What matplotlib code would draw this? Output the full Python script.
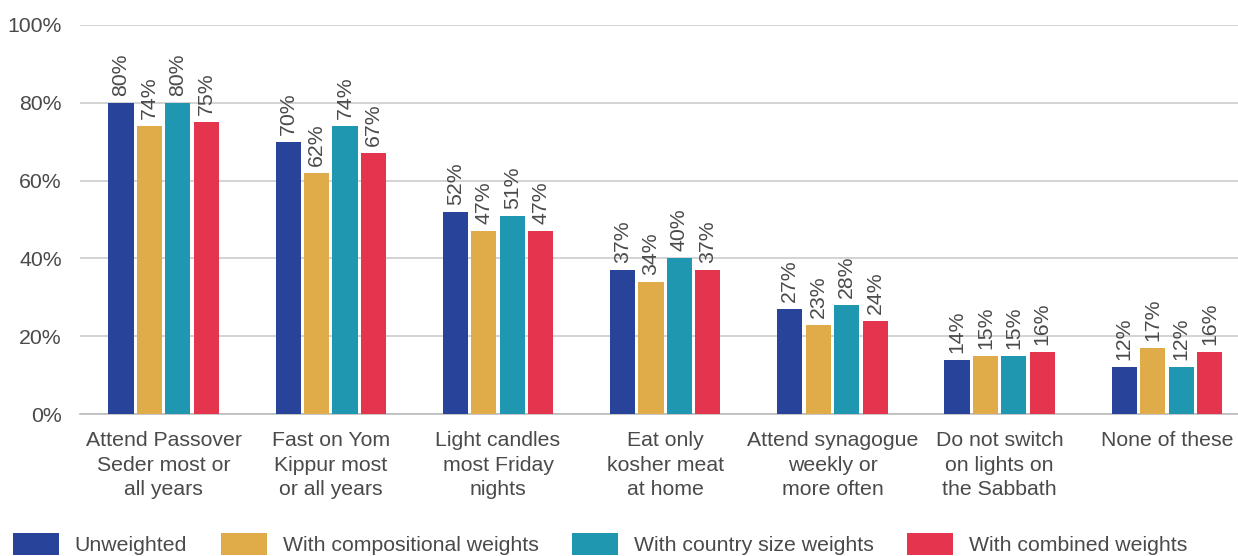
import matplotlib
matplotlib.use("Agg")
import matplotlib.pyplot as plt
import numpy as np

categories = ["Attend Passover\nSeder most or\nall years",
              "Fast on Yom\nKippur most\nor all years",
              "Light candles\nmost Friday\nnights",
              "Eat only\nkosher meat\nat home",
              "Attend synagogue\nweekly or\nmore often",
              "Do not switch\non lights on\nthe Sabbath",
              "None of these"]
series_names = ["Unweighted", "With compositional weights",
                "With country size weights", "With combined weights"]
unweighted = [80, 70, 52, 37, 27, 14, 12]
compositional = [74, 62, 47, 34, 23, 15, 17]
country_size = [80, 74, 51, 40, 28, 15, 12]
combined = [75, 67, 47, 37, 24, 16, 16]
yticks = [0, 20, 40, 60, 80, 100]

colors = ["#27449A", "#E0AC4A", "#1F97B0", "#E5344E"]
text_color = "#4a4a4a"
plt.rcParams['font.family'] = ['Liberation Sans', 'DejaVu Sans']
FS = 15.3
W = "normal"

fig = plt.figure(figsize=(12.38, 5.56), dpi=100)
ax = fig.add_axes([80/1238, 1-414/556, (1238-80)/1238, (414-25)/556])

x = np.arange(len(categories))
step = 0.17
width = 0.15
all_series = [unweighted, compositional, country_size, combined]
for i, (vals, name, c) in enumerate(zip(all_series, series_names, colors)):
    pos = x + (i - 1.5) * step
    ax.bar(pos, vals, width, color=c, label=name, zorder=3)
    for xp, v in zip(pos, vals):
        ax.text(xp, v + 1.8, f"{v}%", rotation=90, ha="center", va="bottom",
                fontsize=FS, color=text_color, fontweight=W)

ax.set_xlim(-0.5, (1238-163)/167.3)
ax.set_ylim(0, 100)
ax.set_yticks(yticks)
ax.set_yticklabels([f"{t}%" for t in yticks], fontsize=FS, color=text_color, fontweight=W)
ax.set_xticks(x)
ax.set_xticklabels(categories, fontsize=FS, color=text_color, fontweight=W, linespacing=1.36)
ax.tick_params(axis="both", length=0)
ax.tick_params(axis="x", pad=12.5)
ax.tick_params(axis="y", pad=13)
ax.grid(axis="y", color="#cccccc", linewidth=1.2, zorder=0)
for s in ["top", "right", "left"]:
    ax.spines[s].set_visible(False)
ax.spines["bottom"].set_color("#bbbbbb")
ax.spines["bottom"].set_linewidth(1.2)

leg = fig.legend(loc="center left", bbox_to_anchor=(13/1238, 1-544/556), ncol=4, frameon=False,
                 handlelength=2.16, handleheight=1.2, handletextpad=0.75,
                 columnspacing=1.58, borderpad=0, borderaxespad=0,
                 labelcolor=text_color, prop={'weight': W, 'size': FS})
fig.savefig("out.png", dpi=100)
